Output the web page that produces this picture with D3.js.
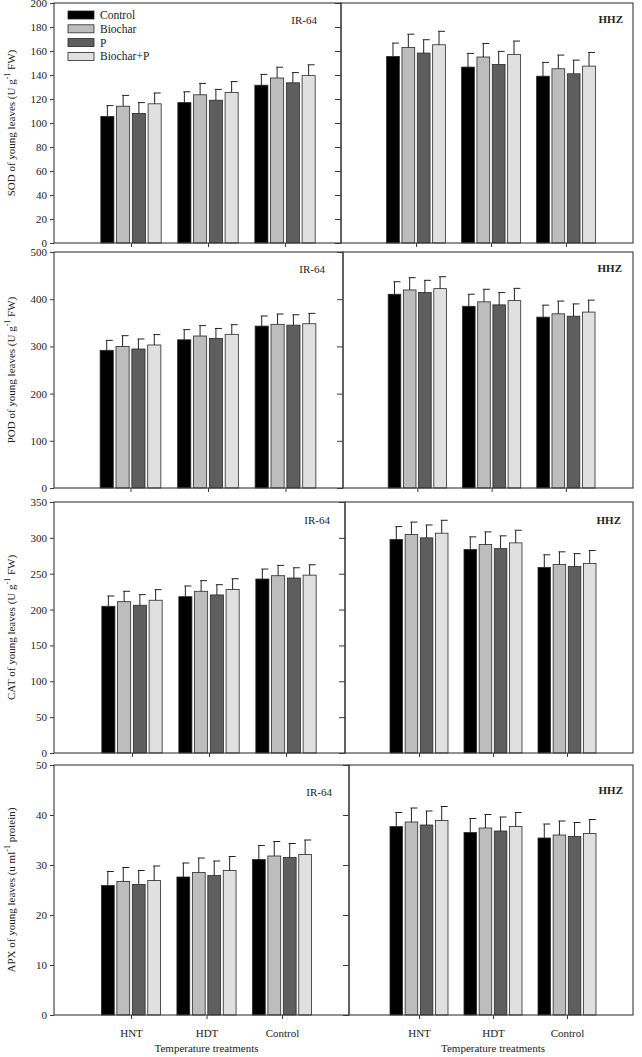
<!DOCTYPE html>
<html>
<head>
<meta charset="utf-8">
<script src="https://cdn.jsdelivr.net/npm/d3@7"></script>
<style>
  html, body { margin: 0; padding: 0; background: #fff; }
  svg { display: block; }
  text { font-family: "Liberation Serif", "Times New Roman", serif; fill: #222; }
</style>
</head>
<body>
<script>
// ---------------- DATA ----------------
const groups = ["HNT", "HDT", "Control"];
const seriesNames = ["Control", "Biochar", "P", "Biochar+P"];

// means per group [HNT, HDT, Control] x series [Control, Biochar, P, Biochar+P]
const sodIRMean = [[105.5, 114, 108, 116], [117, 123.5, 119, 125.5], [131.5, 137.5, 133.5, 139.5]];
const sodIRErr  = [[9, 9, 9, 9], [9, 9.5, 9, 9], [9, 9, 8.5, 9]];
const sodHHZMean = [[155.5, 163, 158.3, 165.2], [146.6, 155, 148.8, 157.2], [139, 145.2, 141, 147.4]];
const sodHHZErr  = [[11.1, 11, 11.1, 11.2], [11.4, 11.3, 10.9, 11.1], [11.5, 11.4, 11.4, 11.4]];

const podIRMean = [[291.7, 300, 294.5, 303], [314, 322, 317, 325.6], [343, 346.8, 345, 348]];
const podIRErr  = [[21, 22.7, 21.2, 22], [21.5, 22, 21, 20.4], [21.4, 21.8, 22, 22]];
const podHHZMean = [[410.5, 419.6, 414, 422.4], [385, 394.4, 388, 397], [362, 369, 364, 372.7]];
const podHHZErr  = [[26.5, 26, 26, 25.2], [25.5, 26.6, 26, 26], [25.4, 27, 26, 25.3]];

const catIRMean = [[204.6, 211, 206, 213], [218, 225.5, 220.4, 228], [242.6, 247.2, 244, 248]];
const catIRErr  = [[14.4, 14.5, 14.8, 14.8], [14.9, 14.8, 14.3, 15], [13.9, 14.4, 14.3, 14.5]];
const catHHZMean = [[297.7, 304.6, 300, 306.5], [283.8, 290.7, 285, 293], [258.8, 263, 260, 264.4]];
const catHHZErr  = [[18, 17.4, 18, 18], [17.6, 17.6, 17.8, 17.6], [17.6, 17.5, 18, 18]];

const apxIRMean = [[25.9, 26.7, 26.1, 26.9], [27.6, 28.5, 27.9, 28.9], [31.1, 31.8, 31.5, 32.1]];
const apxIRErr  = [[2.8, 2.8, 2.8, 2.9], [2.8, 2.9, 2.9, 2.8], [2.8, 2.9, 2.8, 2.9]];
const apxHHZMean = [[37.7, 38.6, 38, 38.9], [36.5, 37.4, 36.8, 37.7], [35.4, 36, 35.7, 36.3]];
const apxHHZErr  = [[2.8, 2.8, 2.8, 2.8], [2.8, 2.7, 2.8, 2.8], [2.8, 2.8, 2.8, 2.8]];

const sodTicks = [0, 20, 40, 60, 80, 100, 120, 140, 160, 180, 200];
const podTicks = [0, 100, 200, 300, 400, 500];
const catTicks = [0, 50, 100, 150, 200, 250, 300, 350];
const apxTicks = [0, 10, 20, 30, 40, 50];

const yLabels = [
  ["SOD of young leaves (U  g", "-1", "  FW)"],
  ["POD of young leaves (U  g", "-1", "  FW)"],
  ["CAT of young leaves  (U  g", "-1", "  FW)"],
  ["APX of young leaves (u ml", "-1", "  protein)"]
];
const xTitle = "Temperature treatments";

// ---------------- STYLE / LAYOUT ----------------
const W = 642, H = 1057;
const colors = ["#000000", "#bdbdbd", "#5e5e5e", "#e0e0e0"];
const frameColor = "#3a3a3a";
const leftX0 = 54, rightEdge = 633;

const rows = [
  { top: 3,   bottom: 243,  div: 341, lx0: 54,   lstep: 77,   rx0: 341, rstep: 75,   ticks: sodTicks, L: [sodIRMean, sodIRErr], R: [sodHHZMean, sodHHZErr], ir: [317, 24], hhz: [623, 23] },
  { top: 252, bottom: 488,  div: 343, lx0: 53,   lstep: 77.5, rx0: 343, rstep: 74.3, ticks: podTicks, L: [podIRMean, podIRErr], R: [podHHZMean, podHHZErr], ir: [325, 273], hhz: [622, 272] },
  { top: 502, bottom: 753,  div: 345, lx0: 55,   lstep: 77,   rx0: 345, rstep: 74,   ticks: catTicks, L: [catIRMean, catIRErr], R: [catHHZMean, catHHZErr], ir: [330, 524], hhz: [621, 524] },
  { top: 765, bottom: 1015, div: 349, lx0: 55.5, lstep: 75.5, rx0: 345, rstep: 74,   ticks: apxTicks, L: [apxIRMean, apxIRErr], R: [apxHHZMean, apxHHZErr], ir: [332, 796], hhz: [623, 794] }
];

const svg = d3.select("body").append("svg").attr("width", W).attr("height", H);
svg.append("rect").attr("width", W).attr("height", H).attr("fill", "#fff");

const seriesOffset = d3.scaleBand().domain(d3.range(4)).range([-0.4, 0.4]).paddingInner(0.17).paddingOuter(0.04);

function drawBars(g, x, y, mean, err) {
  const data = [];
  mean.forEach((vals, gi) => vals.forEach((v, si) => data.push({ gi, si, v, e: err[gi][si] })));
  const bw = x(seriesOffset.bandwidth()) - x(0);
  const xs = d => x(d.gi + 1 + seriesOffset(d.si));
  g.selectAll("rect.bar").data(data).join("rect")
    .attr("class", "bar")
    .attr("x", xs)
    .attr("y", d => y(d.v))
    .attr("width", bw)
    .attr("height", d => y(0) - y(d.v))
    .attr("fill", d => colors[d.si])
    .attr("stroke", "#2a2a2a")
    .attr("stroke-width", 0.8);
  const cx = d => xs(d) + bw / 2;
  g.selectAll("line.eb").data(data).join("line")
    .attr("class", "eb")
    .attr("x1", cx).attr("x2", cx)
    .attr("y1", d => y(d.v)).attr("y2", d => y(d.v + d.e))
    .attr("stroke", "#222").attr("stroke-width", 1);
  g.selectAll("line.cap").data(data).join("line")
    .attr("class", "cap")
    .attr("x1", d => cx(d) - 1).attr("x2", d => cx(d) + 6)
    .attr("y1", d => y(d.v + d.e)).attr("y2", d => y(d.v + d.e))
    .attr("stroke", "#222").attr("stroke-width", 1);
}

function styleAxis(sel) {
  sel.selectAll("path.domain").remove();
  sel.selectAll(".tick line").attr("stroke", frameColor);
  sel.selectAll(".tick text").attr("font-family", "Liberation Serif, serif").attr("font-size", 11).attr("fill", "#222");
}

rows.forEach((r, ri) => {
  const last = ri === rows.length - 1;
  const ymax = r.ticks[r.ticks.length - 1];
  const y = d3.scaleLinear().domain([0, ymax]).range([r.bottom, r.top]);
  const xL = d3.scaleLinear().domain([0, 4]).range([r.lx0, r.lx0 + 4 * r.lstep]);
  const xR = d3.scaleLinear().domain([0, 4]).range([r.rx0, r.rx0 + 4 * r.rstep]);

  drawBars(svg.append("g"), xL, y, r.L[0], r.L[1]);
  drawBars(svg.append("g"), xR, y, r.R[0], r.R[1]);

  // frames
  svg.append("rect").attr("x", leftX0).attr("y", r.top).attr("width", r.div - leftX0).attr("height", r.bottom - r.top)
    .attr("fill", "none").attr("stroke", frameColor).attr("stroke-width", 1.1);
  svg.append("rect").attr("x", r.div).attr("y", r.top).attr("width", rightEdge - r.div).attr("height", r.bottom - r.top)
    .attr("fill", "none").attr("stroke", frameColor).attr("stroke-width", 1.1);

  // y axes
  svg.append("g").attr("transform", `translate(${leftX0},0)`)
    .call(d3.axisLeft(y).tickValues(r.ticks).tickSize(4).tickPadding(3).tickFormat(d3.format("d")))
    .call(styleAxis);
  svg.append("g").attr("transform", `translate(${r.div},0)`)
    .call(d3.axisLeft(y).tickValues(r.ticks).tickSize(6).tickFormat(() => ""))
    .call(styleAxis);

  // x axes
  const fmt = last ? (i => groups[i - 1]) : (() => "");
  svg.append("g").attr("transform", `translate(0,${r.bottom})`)
    .call(d3.axisBottom(xL).tickValues([1, 2, 3]).tickSize(4).tickPadding(10).tickFormat(fmt))
    .call(styleAxis);
  svg.append("g").attr("transform", `translate(0,${r.bottom})`)
    .call(d3.axisBottom(xR).tickValues([1, 2, 3]).tickSize(4).tickPadding(10).tickFormat(fmt))
    .call(styleAxis);

  // panel labels
  svg.append("text").attr("x", r.ir[0]).attr("y", r.ir[1]).attr("text-anchor", "end")
    .attr("font-size", 11).text("IR-64");
  svg.append("text").attr("x", r.hhz[0]).attr("y", r.hhz[1]).attr("text-anchor", "end")
    .attr("font-size", 11).attr("font-weight", "bold").text("HHZ");

  // y label
  const cy = (r.top + r.bottom) / 2;
  const t = svg.append("text").attr("transform", `translate(15,${cy}) rotate(-90)`)
    .attr("text-anchor", "middle").attr("font-size", 11);
  t.append("tspan").text(yLabels[ri][0]);
  t.append("tspan").attr("dy", -5).attr("font-size", 8).text(yLabels[ri][1]);
  t.append("tspan").attr("dy", 5).text(yLabels[ri][2]);

  if (last) {
    svg.append("text").attr("x", xL(2)).attr("y", 1052).attr("text-anchor", "middle")
      .attr("font-size", 11).text(xTitle);
    svg.append("text").attr("x", xR(2)).attr("y", 1052).attr("text-anchor", "middle")
      .attr("font-size", 11).text(xTitle);
  }
});

// legend
const leg = svg.append("g");
seriesNames.forEach((name, i) => {
  const yy = 15 + i * 13.8;
  leg.append("rect").attr("x", 68).attr("y", yy - 4).attr("width", 26).attr("height", 8)
    .attr("fill", colors[i]).attr("stroke", "#2a2a2a").attr("stroke-width", 0.8);
  leg.append("text").attr("x", 100).attr("y", yy + 4).attr("font-size", 11.5).text(name);
});
</script>
</body>
</html>
